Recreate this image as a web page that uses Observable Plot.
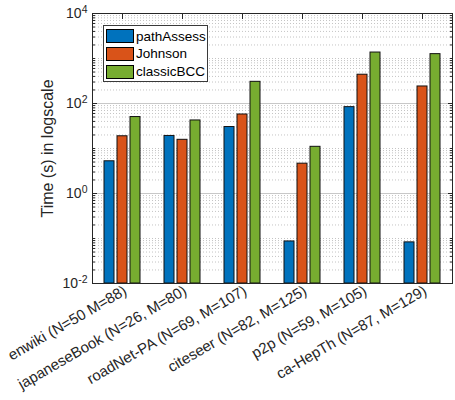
<!DOCTYPE html>
<html><head><meta charset="utf-8">
<script src="https://cdn.jsdelivr.net/npm/d3@7"></script>
<script src="https://cdn.jsdelivr.net/npm/@observablehq/plot@0.6"></script>
<style>
body{margin:0;background:#fff;font-family:"Liberation Sans",Arial,sans-serif;}
#wrap{position:relative;width:455px;height:400px;overflow:hidden;}
#legend{position:absolute;left:103px;top:25px;width:103px;height:55px;border:1px solid #3a3a3a;background:#fff;font-size:13.5px;color:#000;}
.row{position:absolute;left:2px;height:14px;display:flex;align-items:center;}
.sw{width:26px;height:12px;border:1px solid #000;margin-right:2px;}
</style></head>
<body><div id="wrap"></div>
<script>
const datasets = ["enwiki (N=50 M=88)", "japaneseBook (N=26, M=80)", "roadNet-PA (N=69, M=107)", "citeseer (N=82, M=125)", "p2p (N=59, M=105)", "ca-HepTh (N=87, M=129)"];
const methods = ["pathAssess", "Johnson", "classicBCC"];
const pathAssess = [5.2, 19, 30, 0.086, 83, 0.082];
const johnson = [18.7, 15.6, 57, 4.6, 436, 239];
const classicBCC = [50, 42, 303, 10.9, 1357, 1250];
const colors = ["#0072BD", "#D95319", "#77AC30"];
const yDomain = [1e-2, 1e4];
const yTicks = [1e-2, 1e0, 1e2, 1e4];
const yTickBase = "10";
const yTickExponents = ["-2", "0", "2", "4"];
const yLabel = "Time (s) in logscale";

const series = [pathAssess, johnson, classicBCC];
const table = datasets.flatMap((d, i) => methods.map((m, j) => ({dataset: d, method: m, value: series[j][i]})));
const minor = [];
for (let e = -2; e < 4; e++) for (let m = 2; m <= 10; m++) { const v = m * 10 ** e; if (!yTicks.includes(v)) minor.push(v); }
const tickLab = new Map(yTicks.map((t, i) => [t, yTickBase + "^" + yTickExponents[i]]));
const blank = () => "";

const chart = Plot.plot({
  width: 455, height: 400,
  marginLeft: 90, marginRight: 2, marginTop: 13, marginBottom: 117,
  style: {fontFamily: "Liberation Sans, Arial, sans-serif", fontSize: "13px", color: "#262626", background: "#fff"},
  fx: {domain: datasets, padding: 0, label: null},
  x: {domain: methods, paddingInner: 0.214, paddingOuter: 0.768, axis: null},
  y: {type: "log", domain: yDomain, axis: null},
  color: {domain: methods, range: colors},
  marks: [
    Plot.ruleY(minor, {stroke: "#c4c4c4", strokeDasharray: "1,2"}),
    Plot.ruleY(yTicks, {stroke: "#c8c8c8"}),
    Plot.barY(table, {fx: "dataset", x: "method", y1: () => yDomain[0], y2: "value", fill: "method", stroke: "#111", strokeWidth: 1}),
    Plot.frame({facet: "super", stroke: "#262626"}),
    Plot.axisY({anchor: "left", ticks: yTicks, tickFormat: d => tickLab.get(d), tickSize: 0, tickPadding: 5, label: null, fontSize: 14}),
    Plot.axisY({anchor: "left", ticks: yTicks, tickFormat: blank, tickSize: -5, label: null}),
    Plot.axisY({anchor: "left", ticks: minor, tickFormat: blank, tickSize: -3, label: null}),
    Plot.axisY({anchor: "right", ticks: yTicks, tickFormat: blank, tickSize: -5, label: null}),
    Plot.axisY({anchor: "right", ticks: minor, tickFormat: blank, tickSize: -3, label: null}),
    Plot.axisFx({anchor: "top", tickFormat: blank, tickSize: -5, label: null}),
    Plot.axisFx({anchor: "bottom", tickRotate: -30, tickSize: 0, tickPadding: 6, label: null, fill: "#262626", fontSize: 15, dx: 3}),
    Plot.text([yLabel], {facet: "super", frameAnchor: "left", textAnchor: "middle", lineAnchor: "middle", rotate: -90, dx: -45, fontSize: 16, fill: "#262626"})
  ]
});
// render the tick exponents as raised superscripts
d3.select(chart).selectAll("text").each(function () {
  const t = this.textContent;
  const m = /^10\^(-?\d+)$/.exec(t);
  if (!m) return;
  const sel = d3.select(this);
  sel.text(yTickBase);
  sel.append("tspan").attr("dy", "-0.45em").attr("font-size", "10.5px").text(m[1]);
});
const wrap = document.getElementById("wrap");
wrap.appendChild(chart);
const legend = document.createElement("div");
legend.id = "legend";
methods.forEach((m, i) => {
  const r = document.createElement("div");
  r.className = "row";
  r.style.top = (3 + i * 17.8) + "px";
  r.innerHTML = `<div class="sw" style="background:${colors[i]}"></div><span>${m}</span>`;
  legend.appendChild(r);
});
wrap.appendChild(legend);
</script>
</body></html>
